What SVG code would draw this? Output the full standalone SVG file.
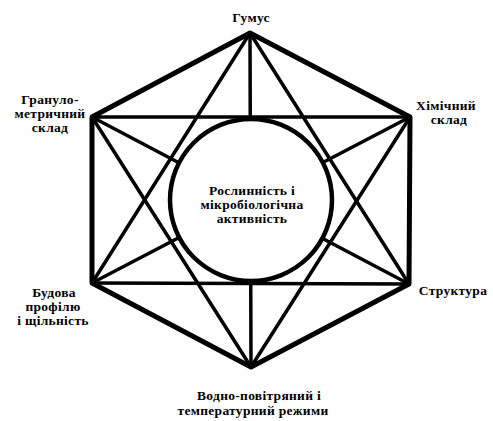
<svg xmlns="http://www.w3.org/2000/svg" width="493" height="421" viewBox="0 0 493 421">
<style>
.edge{stroke:#000;stroke-width:5;stroke-linecap:round;stroke-linejoin:round;fill:none}
.diag{stroke:#000;stroke-width:3.5;stroke-linecap:round;fill:none}
.lbl{font-family:"Liberation Serif","Times New Roman",serif;font-weight:bold;font-size:13.5px;letter-spacing:0.3px;fill:#000;text-anchor:middle}
</style>
<rect width="493" height="421" fill="#fff"/>
<g id="connectors">
<polygon class="edge" points="250,33 410,117 409,284 251,367 92,283 92,117"/>
<line class="diag" x1="92" y1="117" x2="410" y2="117"/>
<line class="diag" x1="92" y1="283" x2="409" y2="284"/>
<line class="diag" x1="250" y1="33" x2="92" y2="283"/>
<line class="diag" x1="250" y1="33" x2="409" y2="284"/>
<line class="diag" x1="251" y1="367" x2="92" y2="117"/>
<line class="diag" x1="251" y1="367" x2="410" y2="117"/>
<line class="diag" x1="250" y1="33" x2="251" y2="367"/>
<line class="diag" x1="92" y1="117" x2="409" y2="284"/>
<line class="diag" x1="410" y1="117" x2="92" y2="283"/>
</g>
<g id="center">
<circle cx="251" cy="200" r="81" fill="#fff" stroke="#000" stroke-width="4.5"/>
<text class="lbl" x="252" y="195">Рослинність і</text>
<text class="lbl" x="252" y="209">мікробіологічна</text>
<text class="lbl" x="252" y="223">активність</text>
</g>
<g id="humus">
<text class="lbl" x="251" y="22">Гумус</text>
</g>
<g id="chem">
<text class="lbl" x="446" y="110">Хімічний</text>
<text class="lbl" x="449" y="124">склад</text>
</g>
<g id="structure">
<text class="lbl" x="453" y="295">Структура</text>
</g>
<g id="water">
<text class="lbl" x="259" y="400">Водно-повітряний і</text>
<text class="lbl" x="253" y="415">температурний режими</text>
</g>
<g id="profile">
<text class="lbl" x="54" y="297">Будова</text>
<text class="lbl" x="53" y="311">профілю</text>
<text class="lbl" x="53" y="325">і щільність</text>
</g>
<g id="granulo">
<text class="lbl" x="50" y="104">Грануло-</text>
<text class="lbl" x="50" y="118">метричний</text>
<text class="lbl" x="50" y="132">склад</text>
</g>
</svg>
